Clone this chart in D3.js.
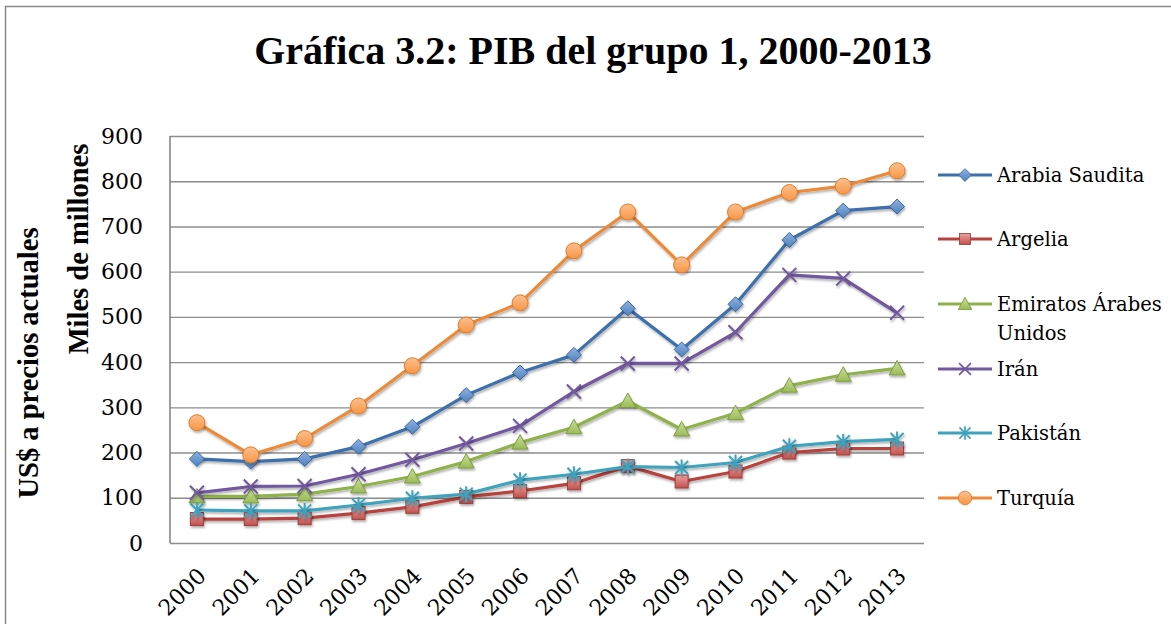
<!DOCTYPE html>
<html>
<head>
<meta charset="utf-8">
<script src="https://cdn.jsdelivr.net/npm/d3@7"></script>
<style>
  body { margin: 0; background: #fff; }
</style>
</head>
<body>
<div id="chart"></div>
<script>
// data (miles de millones de US$)
let years = ["2000", "2001", "2002", "2003", "2004", "2005", "2006",
  "2007", "2008", "2009", "2010", "2011", "2012", "2013"];
let arabiaSaudita = [186, 180, 186, 213, 257, 327, 377, 416, 519, 428, 528, 670, 735, 744];
let argelia = [53, 53, 55, 66, 80, 102, 115, 132, 170, 136, 158, 200, 209, 209];
let emiratos = [103, 103, 108, 125, 147, 180, 222, 256, 314, 251, 287, 348, 372, 386];
let iran = [111, 125, 126, 152, 184, 220, 259, 335, 397, 397, 466, 593, 585, 509];
let pakistan = [73, 71, 71, 84, 99, 108, 139, 152, 169, 167, 178, 214, 224, 229];
let turquia = [266, 195, 231, 303, 392, 482, 531, 646, 732, 615, 732, 775, 789, 823];
let yTicks = [0, 100, 200, 300, 400, 500, 600, 700, 800, 900];

let seriesList = [
  { name: ["Arabia Saudita"], values: arabiaSaudita, line: "#3d6fac", fill: "#4f81bd", light: "#8fb2e0", stroke: "#3a68a3", marker: "diamond" },
  { name: ["Argelia"], values: argelia, line: "#b8423d", fill: "#c0504d", light: "#eaa3a1", stroke: "#a13e3a", marker: "square" },
  { name: ["Emiratos Árabes", "Unidos"], values: emiratos, line: "#8fb24e", fill: "#9bbb59", light: "#c8de96", stroke: "#7f9c42", marker: "triangle" },
  { name: ["Irán"], values: iran, line: "#71589f", fill: "#8064a2", light: "#8064a2", stroke: "#6a4f92", marker: "x" },
  { name: ["Pakistán"], values: pakistan, line: "#3fa3be", fill: "#4bacc6", light: "#4bacc6", stroke: "#3497b2", marker: "star" },
  { name: ["Turquía"], values: turquia, line: "#ec8a39", fill: "#f79646", light: "#fcc08e", stroke: "#e07a2b", marker: "circle" },
];

const width = 1171;
const height = 624;
const plot = { left: 170, right: 924, top: 136, bottom: 543 };
const boldFont = "'Liberation Serif', serif";
const font = "'DejaVu Serif', serif";

let svg = d3
  .select("#chart")
  .append("svg")
  .attr("width", width)
  .attr("height", height)
  .style("font-family", font);

let defs = svg.append("defs");
defs.append("filter")
  .attr("id", "shadow")
  .attr("x", "-50%").attr("y", "-50%")
  .attr("width", "200%").attr("height", "200%")
  .append("feDropShadow")
  .attr("dx", 1).attr("dy", 2)
  .attr("stdDeviation", 1.3)
  .attr("flood-color", "#000")
  .attr("flood-opacity", 0.3);

seriesList.forEach((s, i) => {
  let g = defs.append("linearGradient")
    .attr("id", "grad" + i)
    .attr("x1", 0).attr("y1", 0).attr("x2", 0).attr("y2", 1);
  g.append("stop").attr("offset", "0%").attr("stop-color", s.light);
  g.append("stop").attr("offset", "100%").attr("stop-color", s.fill);
});

// outer frame (only top and left edges visible)
svg.append("path")
  .attr("d", `M5.5,${height} V6.5 H${width}`)
  .attr("fill", "none")
  .attr("stroke", "#8a8a8a")
  .attr("stroke-width", 1.5);

let x = d3.scalePoint().domain(years).range([plot.left, plot.right]).padding(0.5);
let y = d3.scaleLinear().domain([0, 900]).range([plot.bottom, plot.top]);

// gridlines + y labels
svg.append("g")
  .attr("transform", `translate(${plot.left},0)`)
  .call(d3.axisLeft(y).tickValues(yTicks).tickSize(-(plot.right - plot.left)).tickPadding(27))
  .call((g) => {
    g.attr("font-family", null);
    g.select(".domain").remove();
    g.selectAll(".tick line").attr("stroke", "#8c8c8c").attr("stroke-width", 1.4);
    g.selectAll(".tick text")
      .style("font-family", font)
      .attr("font-size", 22)
      .attr("fill", "#000");
  });

svg.append("line")
  .attr("x1", plot.left).attr("x2", plot.left)
  .attr("y1", plot.top).attr("y2", plot.bottom)
  .attr("stroke", "#868686")
  .attr("stroke-width", 1.6);

// x labels, rotated
svg.append("g")
  .selectAll("text")
  .data(years)
  .enter()
  .append("text")
  .attr("transform", (d) => `translate(${x(d) + 5},${572}) rotate(-45)`)
  .attr("text-anchor", "end")
  .attr("dy", "0.35em")
  .attr("font-size", 22)
  .text((d) => d);

// title
svg.append("text")
  .attr("x", 593)
  .attr("y", 64)
  .attr("text-anchor", "middle")
  .style("font-family", boldFont)
  .attr("font-size", 40)
  .attr("font-weight", "bold")
  .text("Gráfica 3.2: PIB del grupo 1, 2000-2013");

// axis titles
svg.append("text")
  .attr("transform", "translate(88,249) rotate(-90)")
  .attr("text-anchor", "middle")
  .style("font-family", boldFont)
  .attr("font-size", 28.5)
  .attr("font-weight", "bold")
  .text("Miles de millones");
svg.append("text")
  .attr("transform", "translate(38,363) rotate(-90)")
  .attr("text-anchor", "middle")
  .style("font-family", boldFont)
  .attr("font-size", 28.5)
  .attr("font-weight", "bold")
  .text("US$ a precios actuales");

function drawMarker(sel, s, i) {
  if (s.marker === "diamond") {
    sel.append("path").attr("d", "M0,-7.5L7.5,0L0,7.5L-7.5,0Z")
      .attr("fill", `url(#grad${i})`).attr("stroke", s.stroke).attr("stroke-width", 1);
  } else if (s.marker === "square") {
    sel.append("rect").attr("x", -6.5).attr("y", -6.5).attr("width", 13).attr("height", 13)
      .attr("fill", `url(#grad${i})`).attr("stroke", s.stroke).attr("stroke-width", 1);
  } else if (s.marker === "triangle") {
    sel.append("path").attr("d", "M0,-8L8,6.5L-8,6.5Z")
      .attr("fill", `url(#grad${i})`).attr("stroke", s.stroke).attr("stroke-width", 1);
  } else if (s.marker === "x") {
    sel.append("path").attr("d", "M-7,-7L7,7M-7,7L7,-7")
      .attr("fill", "none").attr("stroke", s.line).attr("stroke-width", 2);
  } else if (s.marker === "star") {
    sel.append("path").attr("d", "M-6.5,-6.5L6.5,6.5M-6.5,6.5L6.5,-6.5M0,-8V8")
      .attr("fill", "none").attr("stroke", s.line).attr("stroke-width", 2);
  } else {
    sel.append("circle").attr("r", 8)
      .attr("fill", `url(#grad${i})`).attr("stroke", s.stroke).attr("stroke-width", 1);
  }
}

let line = d3.line()
  .x((d, i) => x(years[i]))
  .y((d) => y(d));

seriesList.forEach((s, i) => {
  let g = svg.append("g");
  g.append("path")
    .datum(s.values)
    .attr("d", line)
    .attr("fill", "none")
    .attr("stroke", s.line)
    .attr("stroke-width", 3.2)
    .attr("stroke-linejoin", "round")
    .attr("filter", "url(#shadow)");
  g.selectAll(".pt")
    .data(s.values)
    .enter()
    .append("g")
    .attr("class", "pt")
    .attr("filter", "url(#shadow)")
    .attr("transform", (d, k) => `translate(${x(years[k])},${y(d)})`)
    .each(function () {
      drawMarker(d3.select(this), s, i);
    });
});

// legend
let legendRows = [175, 239, 304, 369, 433, 498];
seriesList.forEach((s, i) => {
  let g = svg.append("g").attr("transform", `translate(0,${legendRows[i]})`);
  g.append("line")
    .attr("x1", 938).attr("x2", 992)
    .attr("stroke", s.line).attr("stroke-width", 3.2);
  let m = g.append("g").attr("transform", "translate(965,0) scale(0.85)");
  drawMarker(m, s, i);
  s.name.forEach((t, k) => {
    g.append("text")
      .attr("x", 997)
      .attr("y", k * 29)
      .attr("dy", "0.35em")
      .attr("font-size", 19.5)
      .text(t);
  });
});
</script>
</body>
</html>
